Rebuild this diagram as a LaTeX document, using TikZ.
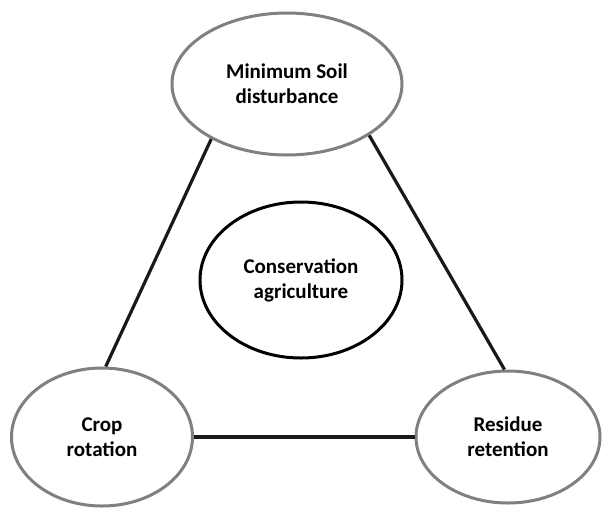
\documentclass[tikz,border=0pt]{standalone}
\usepackage{fontspec}
\setmainfont{Carlito}
\usetikzlibrary{shapes.geometric}
\begin{document}
\begin{tikzpicture}[x=1pt,y=-1pt,
  pillar/.style={ellipse,draw=black!50,line width=3pt,fill=white,inner sep=0pt,
    align=center,font=\bfseries\fontsize{21}{25}\selectfont},
  core/.style={pillar,draw=black},
  link/.style={line width=3.2pt,black!90}]
  \fill[white] (0,0) rectangle (602,507);
  \useasboundingbox (0,0) rectangle (602,507);
  % the three principles around the central concept
  \node[pillar,minimum width=230pt,minimum height=142pt] (msd) at (287,84) {Minimum Soil\\disturbance};
  \node[pillar,minimum width=181pt,minimum height=138pt] (cr) at (102,437) {Crop\\rotation};
  \node[pillar,minimum width=184pt,minimum height=132pt] (rr) at (508,437) {Residue\\retention};
  \node[core,minimum width=202pt,minimum height=156pt] (ca) at (301,280) {Conservation\\agriculture};
  % connectors between the principles
  \draw[link] (msd.216) -- (cr.87);
  \draw[link] (msd.328) -- (rr.93);
  \draw[link] (cr.0) -- (rr.180);
\end{tikzpicture}
\end{document}
